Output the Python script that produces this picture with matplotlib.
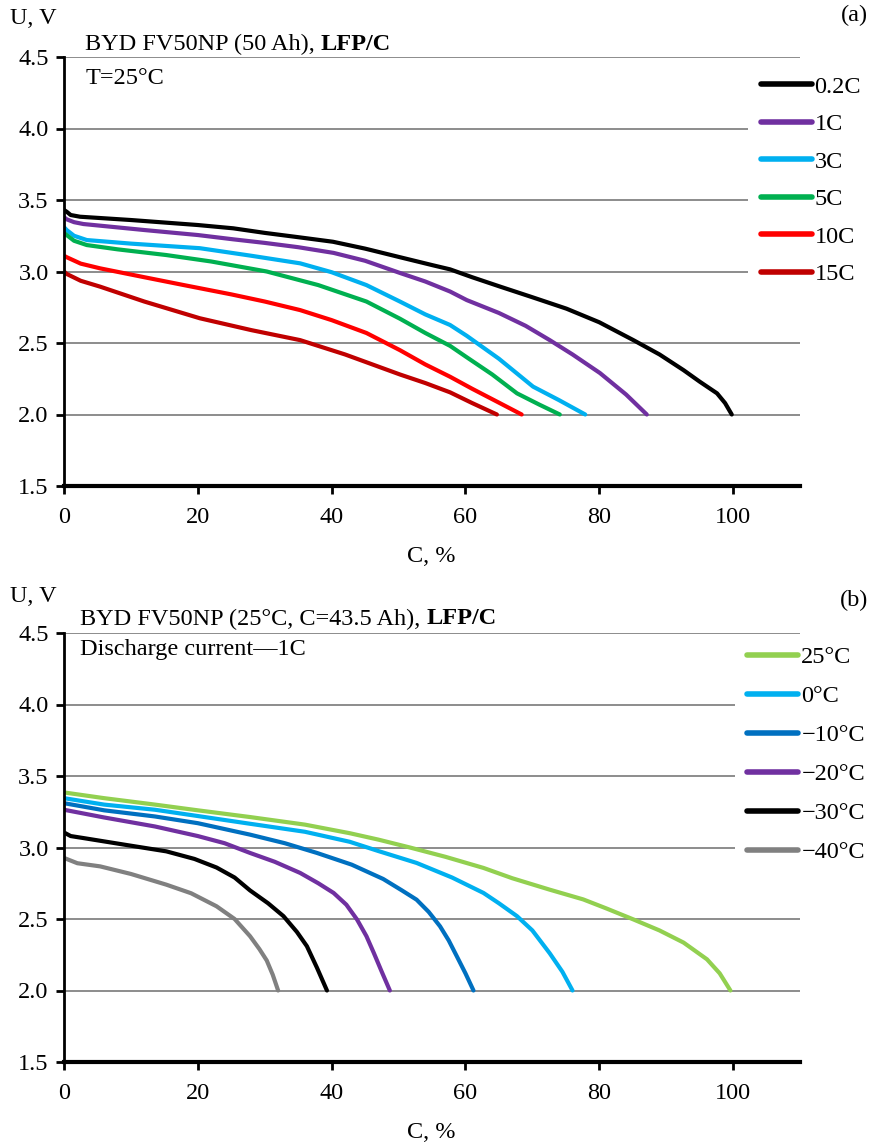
import matplotlib
matplotlib.use("Agg")
import matplotlib.pyplot as plt

plt.rcParams['font.family'] = ['Liberation Serif', 'DejaVu Serif']

# ---- panel (a): discharge at different C-rates, T=25 C
a_labels = ["0.2C", "1C", "3C", "5C", "10C", "15C"]
a_colors = ["#000000", "#7030A0", "#00B0F0", "#00B050", "#FF0000", "#C00000"]
a_x = [
    [0, 0.4, 1, 2.4, 10, 20, 25.3, 30, 35, 40.2, 45, 50.2, 55, 57.7, 61, 65.2, 70, 75.1,
     80, 85.1, 89, 92.6, 95, 97.6, 98.8, 99.8],
    [0, 0.4, 1.5, 2.9, 12, 20, 25.3, 30, 35, 40.3, 45, 50.2, 54, 57.7, 60.2, 65, 69,
     72.6, 76, 80.1, 84, 87.1],
    [0, 0.4, 1.5, 3.4, 10, 20.3, 28, 35.3, 40, 45.2, 50.2, 54, 57.7, 60.2, 65, 70.1,
     74, 77.9],
    [0, 0.4, 1.5, 3.4, 8, 15.3, 22, 30.3, 38, 45.2, 50.2, 54, 57.7, 60.2, 64, 67.7,
     71, 74.1],
    [0, 0.4, 2.5, 5.4, 12, 17.8, 25, 30, 35.3, 40, 45.2, 50.2, 54, 57.7, 61, 65.2, 68.4],
    [0, 0.4, 2.5, 5.4, 12, 20.3, 28, 35.3, 42, 50.2, 54, 57.7, 61, 64.7],
]
a_y = [
    [3.43, 3.418, 3.395, 3.383, 3.36, 3.325, 3.302, 3.27, 3.24, 3.208, 3.16, 3.10, 3.045,
     3.015, 2.96, 2.894, 2.82, 2.74, 2.645, 2.52, 2.42, 2.31, 2.23, 2.148, 2.08, 2.0],
    [3.38, 3.365, 3.345, 3.332, 3.29, 3.255, 3.225, 3.20, 3.17, 3.13, 3.075, 2.99, 2.93,
     2.86, 2.80, 2.71, 2.62, 2.52, 2.42, 2.29, 2.14, 2.0],
    [3.31, 3.29, 3.25, 3.22, 3.195, 3.163, 3.11, 3.057, 2.995, 2.905, 2.79, 2.70, 2.626,
     2.55, 2.39, 2.195, 2.10, 2.0],
    [3.27, 3.255, 3.215, 3.185, 3.155, 3.115, 3.07, 3.0, 2.905, 2.79, 2.67, 2.57, 2.48,
     2.40, 2.28, 2.148, 2.07, 2.0],
    [3.11, 3.10, 3.055, 3.022, 2.96, 2.906, 2.84, 2.79, 2.73, 2.66, 2.57, 2.45, 2.35,
     2.264, 2.18, 2.078, 2.0],
    [3.0, 2.983, 2.935, 2.894, 2.79, 2.673, 2.59, 2.52, 2.42, 2.28, 2.22, 2.155, 2.08, 2.0],
]

# ---- panel (b): 1C discharge at different temperatures
b_labels = ["25°C", "0°C", "\u221210°C", "\u221220°C", "\u221230°C", "\u221240°C"]
b_colors = ["#92D050", "#00B0F0", "#0070C0", "#7030A0", "#000000", "#808080"]
b_x = [
    [0, 6, 13.6, 20, 27.8, 36, 42.7, 47, 51.7, 57, 62.7, 67, 72.6, 77.6, 81, 85.1, 89,
     92.6, 96.1, 98, 99.6],
    [0, 6, 13.6, 20, 27.8, 36, 42.7, 47, 52.7, 58, 62.7, 65, 67.7, 70, 72.6, 74.5, 76],
    [0, 6, 13.6, 20, 27.8, 33, 37.8, 43, 47.7, 50.5, 52.7, 54.5, 56.2, 57.5, 58.7, 60, 61.2],
    [0, 6, 13.6, 20, 24, 27.8, 31.5, 35.3, 38, 40.3, 42.2, 43.8, 45.2, 46.3, 47.5, 48.7],
    [0, 1, 2.9, 9, 15.3, 19.5, 22.8, 25.5, 27.8, 30.5, 32.8, 34.8, 36.3, 37.8, 39.3],
    [0, 2, 5.4, 10, 15.3, 19, 22.8, 25.5, 27.8, 29.2, 30.3, 31.2, 32],
]
b_y = [
    [3.385, 3.345, 3.30, 3.26, 3.213, 3.16, 3.10, 3.055, 3.0, 2.935, 2.857, 2.785, 2.705,
     2.637, 2.575, 2.497, 2.42, 2.335, 2.218, 2.12, 2.0],
    [3.345, 3.30, 3.264, 3.22, 3.166, 3.11, 3.04, 2.975, 2.892, 2.79, 2.682, 2.61, 2.52,
     2.42, 2.26, 2.13, 2.0],
    [3.31, 3.26, 3.217, 3.17, 3.09, 3.03, 2.962, 2.88, 2.78, 2.70, 2.635, 2.55, 2.449,
     2.35, 2.24, 2.12, 2.0],
    [3.264, 3.21, 3.147, 3.08, 3.03, 2.962, 2.90, 2.822, 2.75, 2.682, 2.60, 2.496, 2.38,
     2.263, 2.13, 2.0],
    [3.105, 3.08, 3.066, 3.02, 2.973, 2.92, 2.86, 2.79, 2.70, 2.61, 2.52, 2.41, 2.31,
     2.16, 2.0],
    [2.927, 2.89, 2.868, 2.815, 2.74, 2.68, 2.589, 2.50, 2.38, 2.29, 2.21, 2.11, 2.0],
]

W, H = 875, 1144
fig = plt.figure(figsize=(W / 100, H / 100), dpi=100)
FS = 17.5


def px(x, y):
    return x / W, 1 - y / H


def setup(ax):
    ax.set_xlim(0, 110)
    ax.set_ylim(1.5, 4.5)
    ax.set_xticks([0, 20, 40, 60, 80, 100])
    ax.set_yticks([1.5, 2.0, 2.5, 3.0, 3.5, 4.0, 4.5])
    ax.set_yticklabels(["1.5", "2.0", "2.5", "3.0", "3.5", "4.0", "4.5"])
    ax.yaxis.grid(True, color="#8c8c8c", linewidth=1.4)
    ax.set_axisbelow(True)
    for s in ["top", "right"]:
        ax.spines[s].set_visible(False)
    ax.spines["left"].set_linewidth(2)
    ax.spines["bottom"].set_linewidth(3)
    ax.tick_params(axis="both", direction="out", length=6, width=2, labelsize=FS, pad=5)
    ax.tick_params(axis="x", pad=9)


def curves(ax, xs, ys, labels, colors, anchor, spacing):
    for x, y, lab, c in zip(xs, ys, labels, colors):
        ax.plot(x, y, color=c, lw=3, label=lab, solid_capstyle="round",
                solid_joinstyle="round")
    leg = ax.legend(loc="upper left", bbox_to_anchor=anchor, frameon=True,
                    fontsize=FS, handlelength=2.1, handletextpad=0.12,
                    labelspacing=spacing, borderpad=0.5, borderaxespad=0)
    leg.get_frame().set_facecolor("white")
    leg.get_frame().set_edgecolor("none")
    leg.get_frame().set_alpha(1)
    for line in leg.get_lines():
        line.set_linewidth(4)
        line.set_solid_capstyle("round")


# axes placement (pixels): x 0->64, 110->800 ; panel a y 57..486 ; panel b y 633..1062
ax1 = fig.add_axes([64 / W, 1 - 486 / H, 736 / W, 429 / H])
ax2 = fig.add_axes([64 / W, 1 - 1062 / H, 736 / W, 429 / H])
setup(ax1)
setup(ax2)
curves(ax1, a_x, a_y, a_labels, a_colors, (0.93, 0.985), 0.64)
curves(ax2, b_x, b_y, b_labels, b_colors, (0.912, 0.998), 0.70)


def two_part(x, y, normal, bold):
    t = fig.text(*px(x, y), normal, fontsize=FS, va="center", ha="left")
    fig.canvas.draw()
    bb = t.get_window_extent()
    fig.text(bb.x1 / W, 1 - y / H, bold, fontsize=FS, va="center", ha="left",
             fontweight="bold")


two_part(85, 44, "BYD FV50NP (50 Ah), ", "LFP/C")
fig.text(*px(86, 78), "T=25°C", fontsize=FS, va="center", ha="left")
two_part(80, 619, "BYD FV50NP (25°C, C=43.5 Ah), ", "LFP/C")
fig.text(*px(80, 650), "Discharge current\u20141C", fontsize=FS, va="center", ha="left")

fig.text(*px(10, 18), "U, V", fontsize=FS, va="center", ha="left")
fig.text(*px(10, 596), "U, V", fontsize=FS, va="center", ha="left")
fig.text(*px(868, 15), "(a)", fontsize=FS, va="center", ha="right")
fig.text(*px(868, 600), "(b)", fontsize=FS, va="center", ha="right")
fig.text(*px(431, 556), "C, %", fontsize=FS, va="center", ha="center")
fig.text(*px(431, 1132), "C, %", fontsize=FS, va="center", ha="center")

fig.savefig("out.png", dpi=100)
